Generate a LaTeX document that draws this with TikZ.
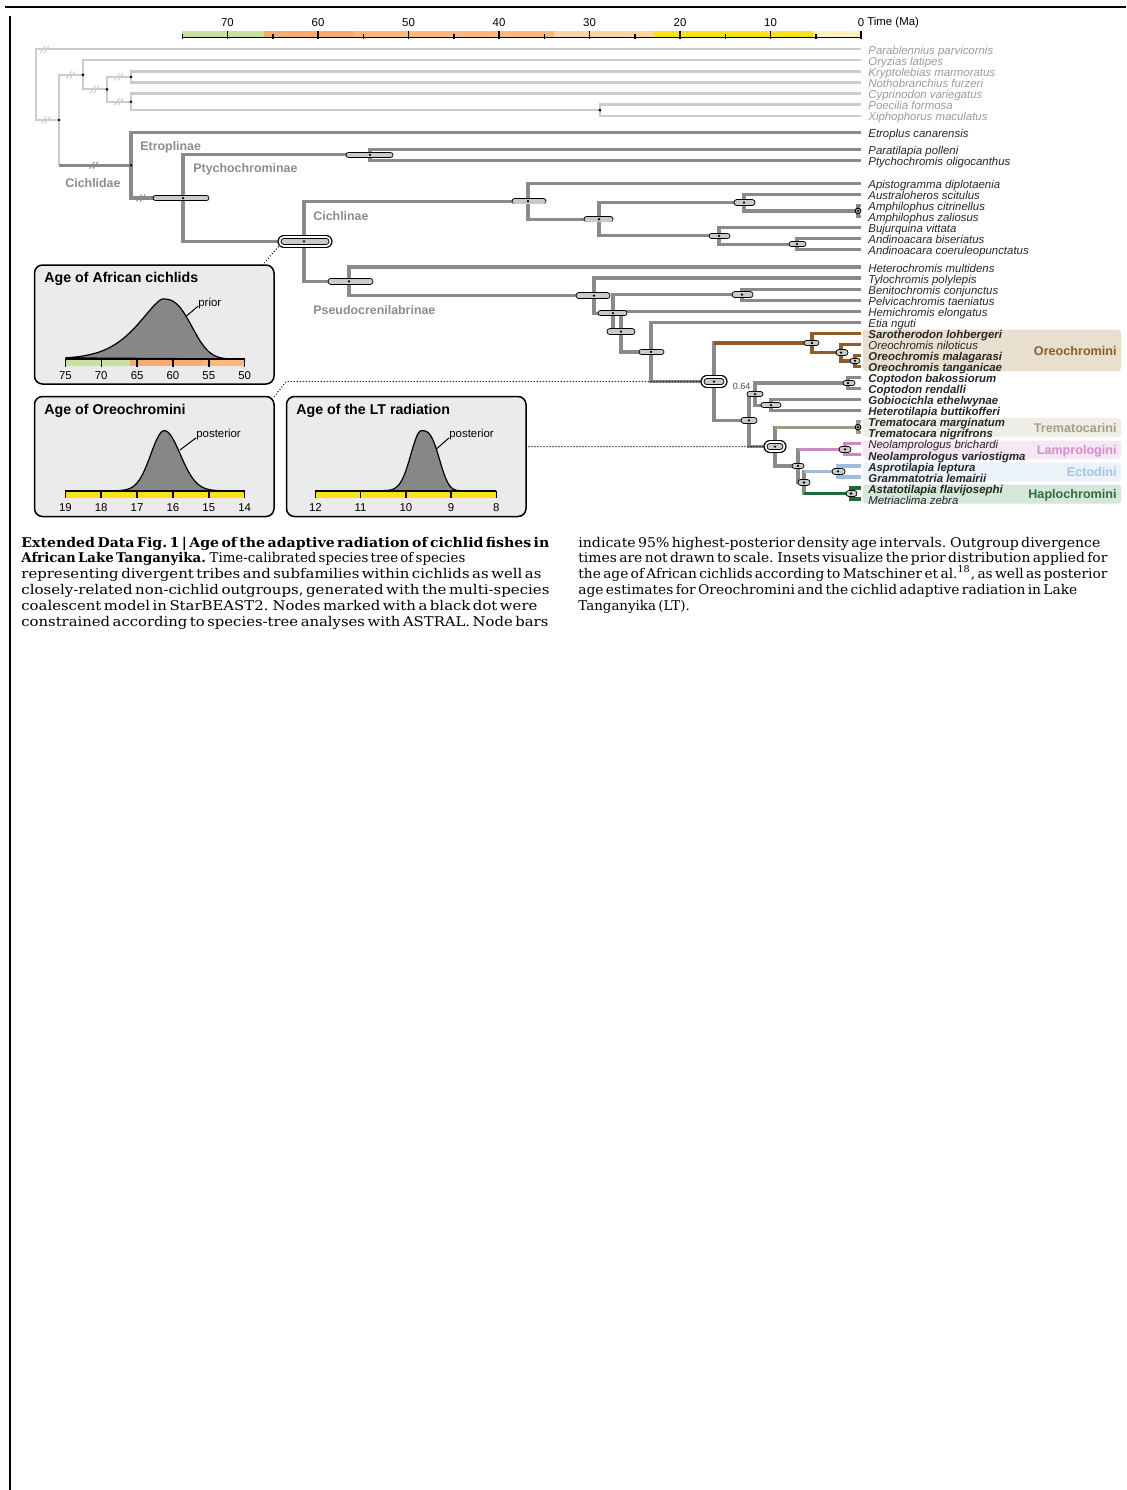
\documentclass[tikz,border=0pt]{standalone}
\usepackage{fontspec}
\setmainfont{DejaVu Serif}
\setsansfont{Liberation Sans}
\usepackage{graphicx}
\usetikzlibrary{calc}
\definecolor{ogGray}{HTML}{CCCCCC}
\definecolor{brGray}{HTML}{8A8A8A}
\definecolor{hpdGray}{HTML}{CACACA}
\definecolor{curveGray}{HTML}{878787}
\definecolor{insetBg}{HTML}{EBEBEB}
\definecolor{tipOut}{HTML}{9A9A9A}
\definecolor{labGray}{HTML}{8C8C8C}
\definecolor{geoK}{HTML}{C6E0A0}
\definecolor{geoPa}{HTML}{F4AC77}
\definecolor{geoEo}{HTML}{F7B882}
\definecolor{geoOl}{HTML}{FCD5A6}
\definecolor{geoMi}{HTML}{F7E21B}
\definecolor{geoPl}{HTML}{FFF2BF}
\definecolor{oreoLine}{HTML}{8C5E24}
\definecolor{oreoBox}{HTML}{E9DFCF}
\definecolor{tremLine}{HTML}{9E9A7A}
\definecolor{tremBox}{HTML}{EEEDE6}
\definecolor{tremText}{HTML}{A3A085}
\definecolor{lampLine}{HTML}{CC88C2}
\definecolor{lampBox}{HTML}{F7E6F4}
\definecolor{lampText}{HTML}{D38FCB}
\definecolor{ectoLine}{HTML}{9DBDE0}
\definecolor{ectoBox}{HTML}{ECF2F9}
\definecolor{ectoText}{HTML}{A6C3E3}
\definecolor{haplLine}{HTML}{1E6B33}
\definecolor{haplBox}{HTML}{D4E7D8}
\definecolor{haplText}{HTML}{2D6D3B}
\newcommand{\hpd}[3]{%
  \draw[line width=3.2pt,line cap=round] ($(#1)+({#2+2.8},0)$) -- ($(#1)+({#3-2.8},0)$);
  \draw[hpdGray,line width=2.3pt,line cap=round] ($(#1)+({#2+2.8},0)$) -- ($(#1)+({#3-2.8},0)$);
  \fill (#1) circle (1.3);}
\newcommand{\hpdd}[3]{%
  \draw[line width=6.4pt,line cap=round] ($(#1)+({#2+2.8},0)$) -- ($(#1)+({#3-2.8},0)$);
  \draw[white,line width=5.2pt,line cap=round] ($(#1)+({#2+2.8},0)$) -- ($(#1)+({#3-2.8},0)$);
  \hpd{#1}{#2}{#3}}
\newcommand{\brk}[2]{\draw[#2,line width=0.5pt] ($(#1)+(-4.5,3.5)$) -- ++(5,-7) ($(#1)+(-1,3.5)$) -- ++(5,-7);}
\newcommand{\dens}[8]{\filldraw[fill=curveGray,draw=black,line width=0.6pt] plot[domain=#1:#2,samples=150]
  (\x,{#8-60*exp(-pow((abs(\x-#3)+0.01)/((\x<#3)*#4+(1-(\x<#3))*#6),(\x<#3)*#5+(1-(\x<#3))*#7))}) -- cycle;}
\newcommand{\capline}[2]{\resizebox{#1pt}{\height}{\spaceskip=0.17em\relax #2}}

\begin{document}
\begin{tikzpicture}[x=0.5pt,y=-0.5pt,
  og/.style={draw=ogGray,line width=1.1pt},
  br/.style={draw=brGray,line width=1.6pt},
  oreo/.style={draw=oreoLine,line width=1.6pt},
  trem/.style={draw=tremLine,line width=1.6pt},
  lamp/.style={draw=lampLine,line width=1.6pt},
  ecto/.style={draw=ectoLine,line width=1.6pt},
  hapl/.style={draw=haplLine,line width=1.6pt},
  tiplab/.style={anchor=mid west,inner sep=0,xshift=3.5pt,text=black!85,font=\sffamily\itshape\fontsize{5.7}{7}\selectfont},
  otip/.style={tiplab,text=tipOut},
  btip/.style={tiplab,font=\sffamily\bfseries\itshape\fontsize{5.7}{7}\selectfont},
  clade/.style={anchor=mid west,inner sep=0,text=labGray,font=\sffamily\bfseries\fontsize{6.2}{7}\selectfont},
  tribe/.style={anchor=mid east,inner sep=0,font=\sffamily\bfseries\fontsize{6.3}{7}\selectfont},
  ttl/.style={anchor=base west,inner sep=0,font=\sffamily\bfseries\fontsize{7.1}{8}\selectfont},
  ax/.style={inner sep=0,font=\sffamily\fontsize{5.7}{7}\selectfont},
  insetbox/.style={fill=insetBg,draw=black,line width=0.75pt,rounded corners=4pt},
  dots/.style={line width=0.7pt,dash pattern=on 0pt off 1.5pt,line cap=round},
  capl/.style={anchor=base west,inner sep=0,font=\fontsize{6.7}{8}\selectfont}]
\useasboundingbox (0,0) rectangle (1126,1490);
\draw[line width=1pt] (5,7) -- (1126,7);
\draw[line width=1pt] (9.5,16) -- (9.5,1490);

% time axis
\fill[geoK] (182.3,30.5) rectangle (263.7,37.5);
\fill[geoPa] (263.7,30.5) rectangle (354.2,37.5);
\fill[geoEo] (354.2,30.5) rectangle (554.2,37.5);
\fill[geoOl] (554.2,30.5) rectangle (652.6,37.5);
\fill[geoMi] (652.6,30.5) rectangle (812.8,37.5);
\fill[geoPl] (812.8,30.5) rectangle (861,37.5);
\draw[line width=0.8pt] (182.3,37.5) -- (861,37.5);
\foreach \t in {70,60,...,0} {\draw[line width=0.75pt] ({861-9.05*\t},30.5) -- ++(0,8.3);
  \node[ax] (tk\t) at ({861-9.05*\t},22.5) {\t};}
\foreach \t in {75,65,...,5} \draw[line width=0.75pt] ({861-9.05*\t},34) -- ++(0,4.8);
\node[ax,anchor=west] (tUnit) at (867,22.5) {Time (Ma)};

% tribe boxes
\fill[oreoBox,rounded corners=1.5pt] (863,329.5) rectangle (1121,371);
\fill[tremBox,rounded corners=1.5pt] (863,418) rectangle (1121,437);
\fill[lampBox,rounded corners=1.5pt] (863,440.5) rectangle (1121,459);
\fill[ectoBox,rounded corners=1.5pt] (863,462.5) rectangle (1121,481.5);
\fill[haplBox,rounded corners=1.5pt] (863,484.5) rectangle (1121,503.5);
\node[tribe,text=oreoLine] (trOreo) at (1117,350) {Oreochromini};
\node[tribe,text=tremText] (trTrem) at (1117,427.2) {Trematocarini};
\node[tribe,text=lampText] (trLamp) at (1117,449.5) {Lamprologini};
\node[tribe,text=ectoText] (trEcto) at (1117,471.5) {Ectodini};
\node[tribe,text=haplText] (trHapl) at (1117,493.5) {Haplochromini};

% tips
\path (861,49.3) coordinate (tParv) node[otip] (lParv) {Parablennius parvicornis};
\path (861,60.35) coordinate (tOryz) node[otip] (lOryz) {Oryzias latipes};
\path (861,71.4) coordinate (tKryp) node[otip] (lKryp) {Kryptolebias marmoratus};
\path (861,82.45) coordinate (tNoth) node[otip] (lNoth) {Nothobranchius furzeri};
\path (861,93.5) coordinate (tCypr) node[otip] (lCypr) {Cyprinodon variegatus};
\path (861,104.55) coordinate (tPoec) node[otip] (lPoec) {Poecilia formosa};
\path (861,115.6) coordinate (tXiph) node[otip] (lXiph) {Xiphophorus maculatus};
\path (861,132.3) coordinate (tEtro) node[tiplab] (lEtro) {Etroplus canarensis};
\path (861,149.3) coordinate (tPara) node[tiplab] (lPara) {Paratilapia polleni};
\path (861,160.3) coordinate (tPtyc) node[tiplab] (lPtyc) {Ptychochromis oligocanthus};
\path (861,183.3) coordinate (tApis) node[tiplab] (lApis) {Apistogramma diplotaenia};
\path (861,194.35) coordinate (tAust) node[tiplab] (lAust) {Australoheros scitulus};
\path (861,205.4) coordinate (tAmCi) node[tiplab] (lAmCi) {Amphilophus citrinellus};
\path (861,216.45) coordinate (tAmZa) node[tiplab] (lAmZa) {Amphilophus zaliosus};
\path (861,227.5) coordinate (tBuju) node[tiplab] (lBuju) {Bujurquina vittata};
\path (861,238.55) coordinate (tAnBi) node[tiplab] (lAnBi) {Andinoacara biseriatus};
\path (861,249.6) coordinate (tAnCo) node[tiplab] (lAnCo) {Andinoacara coeruleopunctatus};
\path (861,267) coordinate (tHete) node[tiplab] (lHete) {Heterochromis multidens};
\path (861,278.05) coordinate (tTylo) node[tiplab] (lTylo) {Tylochromis polylepis};
\path (861,289.1) coordinate (tBeni) node[tiplab] (lBeni) {Benitochromis conjunctus};
\path (861,300.15) coordinate (tPelv) node[tiplab] (lPelv) {Pelvicachromis taeniatus};
\path (861,311.2) coordinate (tHemi) node[tiplab] (lHemi) {Hemichromis elongatus};
\path (861,322.25) coordinate (tEtia) node[tiplab] (lEtia) {Etia nguti};
\path (861,333.3) coordinate (tSaro) node[btip] (lSaro) {Sarotherodon lohbergeri};
\path (861,344.35) coordinate (tOrNi) node[tiplab] (lOrNi) {Oreochromis niloticus};
\path (861,355.4) coordinate (tOrMa) node[btip] (lOrMa) {Oreochromis malagarasi};
\path (861,366.45) coordinate (tOrTa) node[btip] (lOrTa) {Oreochromis tanganicae};
\path (861,377.5) coordinate (tCoBa) node[btip] (lCoBa) {Coptodon bakossiorum};
\path (861,388.55) coordinate (tCoRe) node[btip] (lCoRe) {Coptodon rendalli};
\path (861,399.6) coordinate (tGobi) node[btip] (lGobi) {Gobiocichla ethelwynae};
\path (861,410.65) coordinate (tHeBu) node[btip] (lHeBu) {Heterotilapia buttikofferi};
\path (861,421.7) coordinate (tTrMa) node[btip] (lTrMa) {Trematocara marginatum};
\path (861,432.75) coordinate (tTrNi) node[btip] (lTrNi) {Trematocara nigrifrons};
\path (861,443.8) coordinate (tNeBr) node[tiplab] (lNeBr) {Neolamprologus brichardi};
\path (861,454.85) coordinate (tNeVa) node[btip] (lNeVa) {Neolamprologus variostigma};
\path (861,465.9) coordinate (tAspr) node[btip] (lAspr) {Asprotilapia leptura};
\path (861,476.95) coordinate (tGram) node[btip] (lGram) {Grammatotria lemairii};
\path (861,488) coordinate (tAsta) node[btip] (lAsta) {Astatotilapia flavijosephi};
\path (861,499.05) coordinate (tMetr) node[tiplab] (lMetr) {Metriaclima zebra};

% inner nodes
\coordinate (nRoot) at (36,84.7);
\coordinate (nOut2) at (59,120);
\coordinate (nOut3) at (83,74.85);
\coordinate (nOut4) at (107,89.35);
\coordinate (nOut5) at (131,76.9);
\coordinate (nOut6) at (131,101.8);
\coordinate (nPoec) at (600,110.1);
\coordinate (nCich) at (131,165.2);
\coordinate (nPtyAfr) at (183,198.05);
\coordinate (nPtyc) at (370,154.8);
\coordinate (nAfr) at (304,241.3);
\coordinate (nCichl) at (528,201.25);
\coordinate (nNeo) at (599,219.2);
\coordinate (nAust) at (744,202.6);
\coordinate (nAmph) at (858,210.9);
\coordinate (nBuju) at (719,235.8);
\coordinate (nAndi) at (797,244.1);
\coordinate (nPseu) at (349,281.3);
\coordinate (nPseuB) at (594,295.6);
\coordinate (nChrom) at (613,313.1);
\coordinate (nBePe) at (742,294.6);
\coordinate (nHemi) at (621,331.55);
\coordinate (nEtia) at (651,351.9);
\coordinate (nOreAus) at (714,381.6);
\coordinate (nOre1) at (812,342.95);
\coordinate (nOre2) at (841,352.6);
\coordinate (nOre3) at (855,360.9);
\coordinate (nAus) at (749,420.3);
\coordinate (nCopGob) at (755,394.05);
\coordinate (nCopt) at (848,383);
\coordinate (nGobi) at (771,405.1);
\coordinate (nLT) at (775,446.55);
\coordinate (nTrem) at (858,427.2);
\coordinate (nLTb) at (798,465.9);
\coordinate (nLamp) at (845,449.3);
\coordinate (nEcHa) at (804,482.5);
\coordinate (nEcto) at (838,471.4);
\coordinate (nHapl) at (851,493.5);

\draw[og] (nRoot) |- (tParv) (nRoot) |- (nOut2) (nOut2) |- (nOut3) (nOut3) |- (tOryz) (nOut3) |- (nOut4)
  (nOut4) |- (nOut5) (nOut4) |- (nOut6) (nOut5) |- (tKryp) (nOut5) |- (tNoth) (nOut6) |- (tCypr)
  (nOut6) |- (nPoec) (nPoec) |- (tPoec) (nPoec) |- (tXiph) (nOut2) -- (nOut2 |- nCich);
\draw[br] (nOut2 |- nCich) -- (nCich)
  (nCich) |- (tEtro) (nCich) |- (nPtyAfr) (nPtyAfr) |- (nPtyc) (nPtyAfr) |- (nAfr)
  (nPtyc) |- (tPara) (nPtyc) |- (tPtyc) (nAfr) |- (nCichl) (nAfr) |- (nPseu)
  (nCichl) |- (tApis) (nCichl) |- (nNeo) (nNeo) |- (nAust) (nNeo) |- (nBuju)
  (nAust) |- (tAust) (nAust) |- (nAmph) (nAmph) |- (tAmCi) (nAmph) |- (tAmZa)
  (nBuju) |- (tBuju) (nBuju) |- (nAndi) (nAndi) |- (tAnBi) (nAndi) |- (tAnCo)
  (nPseu) |- (tHete) (nPseu) |- (nPseuB) (nPseuB) |- (tTylo) (nPseuB) |- (nChrom)
  (nChrom) |- (nBePe) (nChrom) |- (nHemi) (nBePe) |- (tBeni) (nBePe) |- (tPelv)
  (nHemi) |- (tHemi) (nHemi) |- (nEtia) (nEtia) |- (tEtia) (nEtia) |- (nOreAus)
  (nOreAus) |- (nOre1) (nOreAus) |- (nAus) (nAus) |- (nCopGob) (nAus) |- (nLT)
  (nCopGob) |- (nCopt) (nCopGob) |- (nGobi) (nCopt) |- (tCoBa) (nCopt) |- (tCoRe)
  (nGobi) |- (tGobi) (nGobi) |- (tHeBu) (nLT) |- (nTrem) (nLT) |- (nLTb)
  (nLTb) |- (nLamp) (nLTb) |- (nEcHa) (nEcHa) |- (nEcto) (nEcHa) |- (nHapl);
\draw[oreo] (nOreAus |- nOre1) -- (nOre1) (nOre1) |- (tSaro) (nOre1) |- (nOre2) (nOre2) |- (tOrNi)
  (nOre2) |- (nOre3) (nOre3) |- (tOrMa) (nOre3) |- (tOrTa);
\draw[trem] (nLT |- nTrem) -- (nTrem) (nTrem) |- (tTrMa) (nTrem) |- (tTrNi);
\draw[lamp] (nLTb |- nLamp) -- (nLamp) (nLamp) |- (tNeBr) (nLamp) |- (tNeVa);
\draw[ecto] (nEcHa |- nEcto) -- (nEcto) (nEcto) |- (tAspr) (nEcto) |- (tGram);
\draw[hapl] (nEcHa |- nHapl) -- (nHapl) (nHapl) |- (tAsta) (nHapl) |- (tMetr);

\brk{45,49.3}{ogGray} \brk{46,120}{ogGray} \brk{71,74.85}{ogGray}
\brk{95,89.35}{ogGray} \brk{119,76.9}{ogGray} \brk{119,101.8}{ogGray}
\brk{94,165.2}{brGray} \brk{141,198.05}{brGray}
\foreach \n in {nOut2,nOut3,nOut4,nOut5,nOut6,nPoec,nCich} \fill (\n) circle (1.4);

\node[clade] (cCichlidae) at (65,182) {Cichlidae};
\node[clade] (cEtro) at (140,145) {Etroplinae};
\node[clade] (cPtyc) at (193,167) {Ptychochrominae};
\node[clade] (cCichl) at (313,215) {Cichlinae};
\node[clade] (cPseu) at (313,309) {Pseudocrenilabrinae};
\node[inner sep=0,text=black!70,font=\sffamily\fontsize{4.5}{5}\selectfont] (lPP) at (741.7,386) {0.64};

% insets
\draw[insetbox] (34.5,265) rectangle (274,384);
\draw[insetbox] (34.5,396.5) rectangle (274,516.5);
\draw[insetbox] (286.5,396.5) rectangle (526,516.5);
\node[ttl] (ttAfr) at (44,282.5) {Age of African cichlids};
\node[ttl] (ttOre) at (44,414.2) {Age of Oreochromini};
\node[ttl] (ttLT) at (296,414.2) {Age of the LT radiation};

\fill[geoK] (65.4,359) rectangle (130,366);
\fill[geoPa] (130,359) rectangle (201.8,366);
\fill[geoEo] (201.8,359) rectangle (244.6,366);
\fill[geoMi] (65.4,490.7) rectangle (244.6,497.7);
\fill[geoMi] (315.4,490.7) rectangle (496.4,497.7);
\dens{65.4}{240}{162.5}{37.4}{1.45}{35.2}{2.7}{359}
\dens{110}{225}{164.3}{19.1}{2}{22.6}{2}{490.7}
\dens{380}{465}{421.4}{14.85}{2}{20.9}{3}{490.7}
\draw[line width=0.9pt] (65.4,359) -- (244.6,359);
\draw[line width=0.9pt] (65.4,490.7) -- (244.6,490.7);
\draw[line width=0.9pt] (315.4,490.7) -- (496.4,490.7);
\foreach \v in {75,70,...,50} {\draw[line width=0.75pt] ({65.4+(75-\v)*7.17},359) -- ++(0,7.5);
  \node[ax] (aAfr\v) at ({65.4+(75-\v)*7.17},376) {\v};}
\foreach \v in {19,18,...,14} {\draw[line width=0.75pt] ({65.4+(19-\v)*35.84},490.7) -- ++(0,7.5);
  \node[ax] (aOre\v) at ({65.4+(19-\v)*35.84},507.7) {\v};}
\foreach \v in {12,11,...,8} {\draw[line width=0.75pt] ({315.4+(12-\v)*45.25},490.7) -- ++(0,7.5);
  \node[ax] (aLT\v) at ({315.4+(12-\v)*45.25},507.7) {\v};}
\node[ax,anchor=mid west] (lPrior) at (198,301) {prior};
\node[ax,anchor=mid west] (lPostO) at (196,432.7) {posterior};
\node[ax,anchor=mid west] (lPostL) at (449,432.7) {posterior};
\coordinate (cPrior) at (185.7,316.7);
\coordinate (cPostO) at (180,450);
\coordinate (cPostL) at (436.4,449);
\draw[line width=0.5pt] (cPrior) -- (lPrior.base west);
\draw[line width=0.5pt] (cPostO) -- (lPostO.base west);
\draw[line width=0.5pt] (cPostL) -- (lPostL.base west);

% connectors to the tree
\coordinate (cAfrIn) at (262.5,265);
\coordinate (cAfrOut) at (278.5,246.5);
\coordinate (cOreIn) at (274.5,396.5);
\coordinate (cOreKnee) at (286,381.6);
\coordinate (cLTIn) at (526,446.55);
\draw[dots] (cAfrIn) -- (cAfrOut);
\draw[dots] (cOreIn) -- (cOreKnee) -- (nOreAus);
\draw[dots] (cLTIn) -- (nLT);

% node bars
\hpd{nPtyAfr}{-30}{26} \hpd{nPtyc}{-24}{23} \hpdd{nAfr}{-23}{25}
\hpd{nCichl}{-16}{18} \hpd{nNeo}{-15}{14} \hpd{nAust}{-10}{11}
\hpd{nBuju}{-10}{11} \hpd{nAndi}{-8}{9} \hpd{nPseu}{-21}{24}
\hpd{nPseuB}{-18}{16} \hpd{nChrom}{-15}{14} \hpd{nBePe}{-10}{11}
\hpd{nHemi}{-14}{14} \hpd{nEtia}{-12}{13} \hpdd{nOreAus}{-10}{10}
\hpd{nOre1}{-8}{7} \hpd{nOre2}{-5}{7} \hpd{nOre3}{-5}{5}
\hpd{nAus}{-8}{8} \hpd{nCopGob}{-8}{8} \hpd{nCopt}{-5}{7}
\hpd{nGobi}{-10}{10} \hpdd{nLT}{-8}{8} \hpd{nLTb}{-6}{6}
\hpd{nLamp}{-6}{6} \hpd{nEcHa}{-6}{6} \hpd{nEcto}{-6}{7} \hpd{nHapl}{-5}{6}
\foreach \n in {nAmph,nTrem} {\filldraw[fill=hpdGray,draw=black,line width=0.5pt] (\n) circle (2.8);
  \fill (\n) circle (1.3);}

% caption
\node[capl] (capL1) at (21,547) {\capline{264}{\textbf{Extended Data Fig.\,1 | Age of the adaptive radiation of cichlid fishes in}}};
\node[capl] (capL2) at (21,562.9) {\capline{222}{\textbf{African Lake Tanganyika.} Time-calibrated species tree of species}};
\node[capl] (capL3) at (21,578.8) {\capline{260}{representing divergent tribes and subfamilies within cichlids as well as}};
\node[capl] (capL4) at (21,594.7) {\capline{264}{closely-related non-cichlid outgroups, generated with the multi-species}};
\node[capl] (capL5) at (21,610.6) {\capline{258}{coalescent model in StarBEAST2. Nodes marked with a black dot were}};
\node[capl] (capL6) at (21,626.5) {\capline{263.5}{constrained according to species-tree analyses with ASTRAL. Node bars}};
\node[capl] (capR1) at (578,547) {\capline{261}{indicate 95\% highest-posterior density age intervals. Outgroup divergence}};
\node[capl] (capR2) at (578,562.9) {\capline{264.5}{times are not drawn to scale. Insets visualize the prior distribution applied for}};
\node[capl] (capR3) at (578,578.8) {\capline{264.5}{the age of African cichlids according to Matschiner et al.\textsuperscript{18}, as well as posterior}};
\node[capl] (capR4) at (578,594.7) {\capline{249.5}{age estimates for Oreochromini and the cichlid adaptive radiation in Lake}};
\node[capl] (capR5) at (578,610.6) {\spaceskip=0.17em\relax Tanganyika (LT).};
\end{tikzpicture}
\end{document}
